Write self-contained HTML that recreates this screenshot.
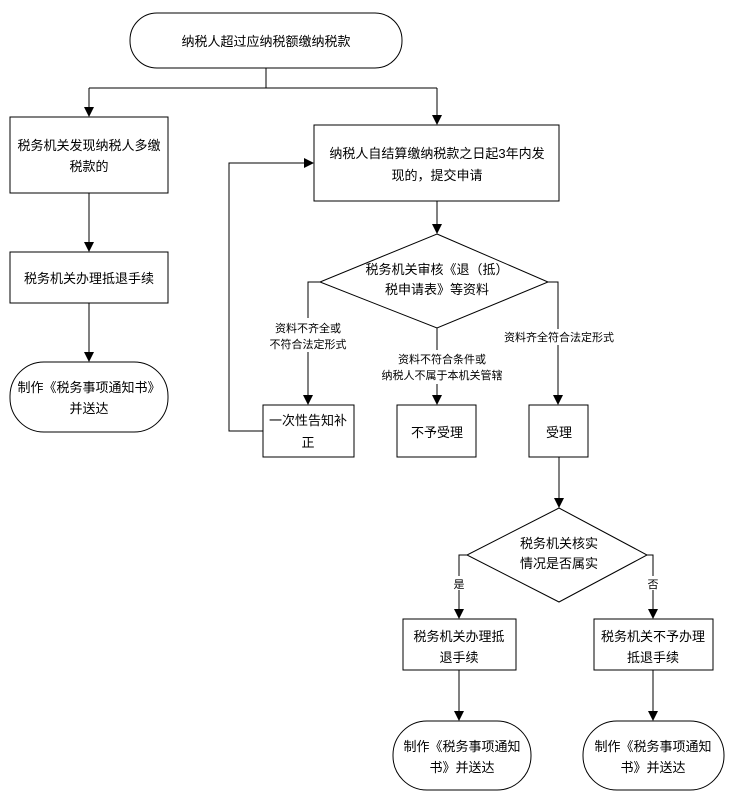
<!DOCTYPE html>
<html><head><meta charset="utf-8"><style>
html,body{margin:0;padding:0;background:#fff;}
svg{display:block;}
text{font-family:"Liberation Sans","Noto Sans CJK SC",sans-serif;font-size:13px;fill:#000;text-anchor:middle;}
.s{font-size:11px;}
</style></head><body>
<svg width="734" height="805" viewBox="0 0 734 805" xmlns="http://www.w3.org/2000/svg">
<defs><marker id="a" markerWidth="10" markerHeight="10" refX="9" refY="5" orient="auto" markerUnits="userSpaceOnUse"><path d="M0,0 L10,5 L0,10 z" fill="#000"/></marker></defs>
<g fill="none" stroke="#000" stroke-width="1">
<rect x="130" y="13" width="272" height="55" rx="27" fill="#fff"/>
<rect x="10" y="117" width="158" height="76"/>
<rect x="10" y="252" width="158" height="51"/>
<rect x="10" y="362" width="158" height="70" rx="34"/>
<rect x="314" y="125" width="245" height="76"/>
<polygon points="437,234 548,282 437,328 320,282"/>
<rect x="263" y="405" width="91" height="52"/>
<rect x="397" y="405" width="79" height="52"/>
<rect x="529" y="405" width="59" height="52"/>
<polygon points="559,508 647,555 559,602 467,555"/>
<rect x="403" y="619" width="113" height="51"/>
<rect x="594" y="619" width="119" height="51"/>
<rect x="393" y="721" width="138" height="69" rx="34"/>
<rect x="583" y="721" width="141" height="69" rx="34"/>
<!-- connectors -->
<polyline points="266,68 266,88"/>
<polyline points="89,88 437,88"/>
<line x1="89" y1="88" x2="89" y2="116" marker-end="url(#a)"/>
<line x1="437" y1="88" x2="437" y2="124" marker-end="url(#a)"/>
<line x1="89" y1="193" x2="89" y2="251" marker-end="url(#a)"/>
<line x1="89" y1="303" x2="89" y2="361" marker-end="url(#a)"/>
<line x1="437" y1="201" x2="437" y2="233" marker-end="url(#a)"/>
<polyline points="320,282 308,282 308,404" marker-end="url(#a)"/>
<line x1="437" y1="328" x2="437" y2="404" marker-end="url(#a)"/>
<polyline points="548,282 558,282 558,404" marker-end="url(#a)"/>
<polyline points="263,431 229,431 229,163 313,163" marker-end="url(#a)"/>
<line x1="559" y1="457" x2="559" y2="507" marker-end="url(#a)"/>
<polyline points="467,555 459,555 459,618" marker-end="url(#a)"/>
<polyline points="647,555 653,555 653,618" marker-end="url(#a)"/>
<line x1="459" y1="670" x2="459" y2="720" marker-end="url(#a)"/>
<line x1="653" y1="670" x2="653" y2="720" marker-end="url(#a)"/>
</g>
<g>
<rect x="268" y="318" width="80" height="34" fill="#fff"/>
<rect x="392" y="350" width="100" height="34" fill="#fff"/>
<rect x="505" y="329" width="110" height="16" fill="#fff"/>
<rect x="453" y="576" width="12" height="14" fill="#fff"/>
<rect x="647" y="576" width="12" height="14" fill="#fff"/>
</g>
<text x="266" y="46">纳税人超过应纳税额缴纳税款</text>
<text x="89" y="150">税务机关发现纳税人多缴</text>
<text x="89" y="171">税款的</text>
<text x="89" y="283">税务机关办理抵退手续</text>
<text x="89" y="392">制作《税务事项通知书》</text>
<text x="89" y="413">并送达</text>
<text x="437" y="158">纳税人自结算缴纳税款之日起3年内发</text>
<text x="437" y="180">现的，提交申请</text>
<text x="437" y="274">税务机关审核《退（抵）</text>
<text x="437" y="294">税申请表》等资料</text>
<text class="s" x="308" y="332">资料不齐全或</text>
<text class="s" x="308" y="348">不符合法定形式</text>
<text class="s" x="442" y="363">资料不符合条件或</text>
<text class="s" x="442" y="379">纳税人不属于本机关管辖</text>
<text class="s" x="559" y="341">资料齐全符合法定形式</text>
<text x="308" y="425">一次性告知补</text>
<text x="308" y="447">正</text>
<text x="437" y="437">不予受理</text>
<text x="559" y="437">受理</text>
<text x="559" y="548">税务机关核实</text>
<text x="559" y="568">情况是否属实</text>
<text class="s" x="459" y="588">是</text>
<text class="s" x="653" y="588">否</text>
<text x="459" y="641">税务机关办理抵</text>
<text x="459" y="662">退手续</text>
<text x="653" y="641">税务机关不予办理</text>
<text x="653" y="662">抵退手续</text>
<text x="462" y="751">制作《税务事项通知</text>
<text x="462" y="772">书》并送达</text>
<text x="653" y="751">制作《税务事项通知</text>
<text x="653" y="772">书》并送达</text>
</svg>
</body></html>
